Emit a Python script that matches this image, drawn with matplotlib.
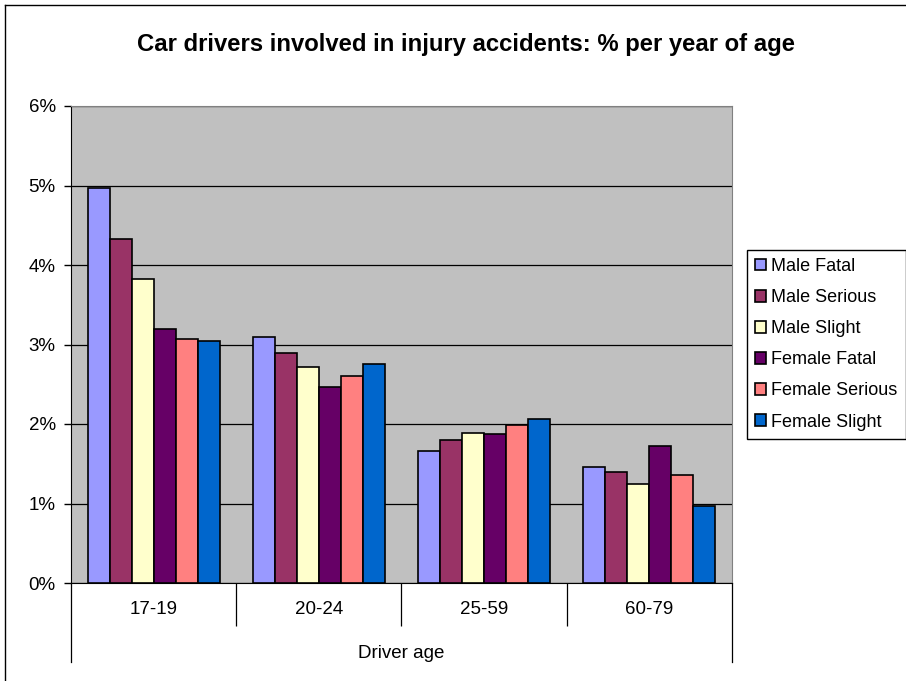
import numpy as np
import matplotlib
matplotlib.use("Agg")
import matplotlib.pyplot as plt
from matplotlib.lines import Line2D

plt.rcParams['font.family'] = ['Liberation Sans', 'DejaVu Sans']

# data (percent per year of age)
ages = ['17-19', '20-24', '25-59', '60-79']
series = ['Male Fatal', 'Male Serious', 'Male Slight',
          'Female Fatal', 'Female Serious', 'Female Slight']
male_fatal = [4.97, 3.09, 1.66, 1.46]
male_serious = [4.33, 2.89, 1.80, 1.39]
male_slight = [3.83, 2.72, 1.89, 1.25]
female_fatal = [3.19, 2.47, 1.87, 1.72]
female_serious = [3.07, 2.60, 1.99, 1.36]
female_slight = [3.05, 2.75, 2.06, 0.97]
colours = ['#9999FF', '#993366', '#FFFFCC', '#660066', '#FF8080', '#0066CC']

values = [male_fatal, male_serious, male_slight,
          female_fatal, female_serious, female_slight]

W, H = 906, 681
fig = plt.figure(figsize=(W / 100, H / 100), dpi=100)
ax = fig.add_axes([71 / W, 1 - 583 / H, (732 - 71) / W, (583 - 106) / H])
ax.set_facecolor('#C0C0C0')

n = len(series)
bw = 1 / (n + 1.5)
x = np.arange(len(ages))
for i, (name, vals, c) in enumerate(zip(series, values, colours)):
    ax.bar(x + (i - (n - 1) / 2) * bw, vals, bw, color=c, edgecolor='black',
           linewidth=1.2, label=name, zorder=3)

ax.set_xlim(-0.5, len(ages) - 0.5)
ax.set_ylim(0, 6)
ax.set_yticks(range(7))
ax.set_yticklabels([f'{v}%' for v in range(7)], fontsize=13.5)
ax.yaxis.grid(True, color='black', linewidth=0.9, zorder=1)
ax.set_axisbelow(True)
ax.tick_params(axis='y', length=5, width=1, pad=6)

# category labels and separators
ax.set_xticks(x)
ax.set_xticklabels(ages, fontsize=13.5)
ax.tick_params(axis='x', length=0, pad=13)
ax.set_xticks(np.arange(0.5, len(ages) - 1, 1), minor=True)
ax.tick_params(axis='x', which='minor', length=31, width=0.9, color='black')
for xe in (-0.5, len(ages) - 0.5):
    ax.plot([xe, xe], [0, -0.165], transform=ax.get_xaxis_transform(),
            color='black', linewidth=0.9, clip_on=False)
ax.set_xlabel('Driver age', fontsize=13.5, labelpad=10)

for s in ('top', 'right'):
    ax.spines[s].set_color('#808080')
ax.spines['left'].set_color('black')
ax.spines['bottom'].set_color('black')

ax.legend(loc='upper left', bbox_to_anchor=(747 / W, 1 - 250 / H),
          bbox_transform=fig.transFigure, fontsize=13, frameon=True,
          fancybox=False, edgecolor='black', framealpha=1,
          handlelength=0.6, handleheight=0.6, handletextpad=0.3,
          labelspacing=0.78, borderpad=0.45, borderaxespad=0)

fig.text(466 / W, 1 - 44 / H, 'Car drivers involved in injury accidents: % per year of age',
         ha='center', va='center', fontsize=17.2, fontweight='bold')

# chart frame
fig.add_artist(Line2D([5 / W, 5 / W], [0, 1 - 5 / H], color='black', linewidth=1))
fig.add_artist(Line2D([5 / W, 1], [1 - 5 / H, 1 - 5 / H], color='black', linewidth=1))

fig.savefig('out.png', dpi=100)
